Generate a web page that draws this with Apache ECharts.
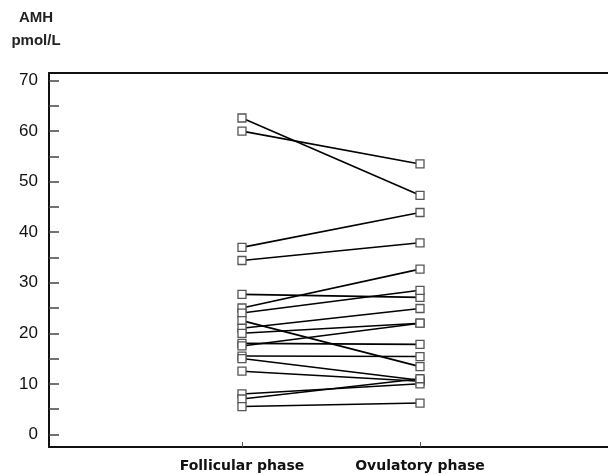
<!DOCTYPE html>
<html>
<head>
<meta charset="utf-8">
<script src="https://cdn.jsdelivr.net/npm/echarts@6/dist/echarts.min.js"></script>
<style>
html,body{margin:0;padding:0;background:#fff;}
#c{width:608px;height:474px;}
</style>
</head>
<body>
<div id="c"></div>
<script>
var phases = ['Follicular phase', 'Ovulatory phase'];
var phasePos = [1, 2];
var follicular = [62.6, 60.0, 37.0, 34.4, 27.7, 25.0, 24.0, 22.5, 21.0, 20.0, 18.0, 17.5, 15.5, 15.0, 12.5, 8.0, 7.0, 5.5];
var ovulatory  = [47.3, 53.5, 43.9, 37.9, 27.1, 32.7, 28.5, 13.4, 24.9, 22.0, 17.8, 22.0, 15.4, 10.7, 10.5, 10.0, 11.0, 6.2];
var yLabels = [0, 10, 20, 30, 40, 50, 60, 70];
var yTicks = [0, 5, 10, 15, 20, 25, 30, 35, 40, 45, 50, 55, 60, 65, 70];

var series = follicular.map(function (f, i) {
  return {
    type: 'line',
    data: [[phasePos[0], f], [phasePos[1], ovulatory[i]]],
    symbol: 'rect',
    symbolSize: 8,
    lineStyle: { color: '#000', width: 1.6 },
    itemStyle: { color: '#fff', borderColor: '#555', borderWidth: 1.3 },
    z: 2,
    animation: false
  };
});

var chart = echarts.init(document.getElementById('c'));
chart.setOption({
  animation: false,
  title: {
    text: 'AMH\npmol/L',
    left: 31,
    top: 1,
    textAlign: 'center',
    textStyle: { fontFamily: 'Liberation Sans', fontSize: 15, fontWeight: 'bold', color: '#222', lineHeight: 23 }
  },
  grid: { left: 49, right: 0, top: 73, bottom: 27 },
  xAxis: [{
    type: 'value',
    min: -0.084,
    max: 3.056,
    splitLine: { show: false },
    axisLine: { show: true, onZero: false, lineStyle: { color: '#111', width: 2 } },
    axisTick: { show: true, inside: true, length: 5, customValues: phasePos, lineStyle: { color: '#555' } },
    axisLabel: {
      customValues: phasePos,
      margin: 12,
      fontFamily: 'DejaVu Sans',
      fontSize: 14,
      fontWeight: 'bold',
      color: '#111',
      formatter: function (v) { return phases[Math.round(v) - 1] || ''; }
    }
  }, {
    type: 'value',
    position: 'top',
    min: -0.084,
    max: 3.056,
    splitLine: { show: false },
    axisLine: { show: true, onZero: false, lineStyle: { color: '#111', width: 2 } },
    axisTick: { show: false },
    axisLabel: { show: false }
  }],
  yAxis: {
    type: 'value',
    min: -2.5,
    max: 71.5,
    splitLine: { show: false },
    axisLine: { show: true, onZero: false, lineStyle: { color: '#111', width: 2 } },
    axisTick: { show: true, inside: true, length: 10, customValues: yTicks, lineStyle: { color: '#444', width: 1.5 } },
    axisLabel: {
      customValues: yLabels,
      margin: 11,
      fontFamily: 'Liberation Sans',
      fontSize: 17,
      color: '#111'
    }
  },
  series: series
});
</script>
</body>
</html>
